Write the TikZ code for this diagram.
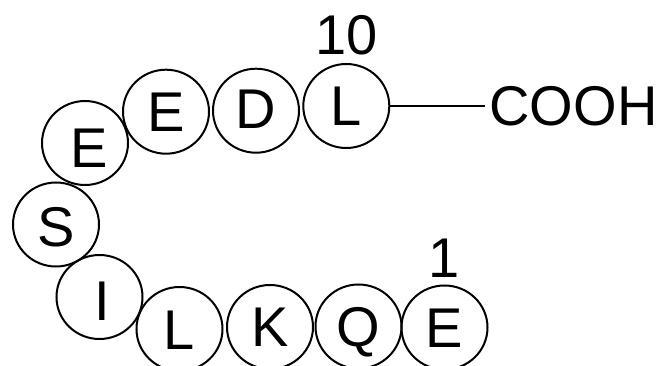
\documentclass[tikz,border=0pt]{standalone}
\usepackage{fontspec}
\setmainfont{Liberation Sans}
\usetikzlibrary{shapes.geometric, positioning}
\tikzstyle{residue} = [ellipse, draw=black, line width=2pt, minimum width=86pt, minimum height=84pt, inner sep=0pt, text height=40pt, text depth=0pt, font=\fontsize{56}{60}\selectfont]
\tikzstyle{tag} = [inner sep=0pt, text height=40pt, text depth=0pt, font=\fontsize{56}{60}\selectfont]
\tikzstyle{bond} = [line width=1.8pt]

\begin{document}
\begin{tikzpicture}[x=1pt, y=-1pt]
\useasboundingbox (0,0) rectangle (662,366);

% Residues, N-terminus first
\node (e1) [residue] at (444.5,327.5) {E};
\node (q2) [residue] at (358.5,326.5) {Q};
\node (k3) [residue] at (270,327) {K};
\node (l4) [residue] at (179.5,329) {L};
\node (i5) [residue, text height=47pt] at (99.5,297) {\hspace{5pt}I};
\node (s6) [residue, text height=44pt] at (56,224.5) {S};
\node (e7) [residue, text height=50pt] at (85,143) {\hspace{8pt}E};
\node (e8) [residue] at (166,111.7) {E};
\node (d9) [residue, text height=36pt] at (256,110.7) {D};
\node (l10) [residue] at (346.3,106) {L};

% Position numbers
\node (n1) [tag, above=7pt of e1] {1};
\node (n10) [tag, above=8.5pt of l10] {10};

% C-terminus
\node (cooh) [tag, inner xsep=4pt, right=95pt of l10] {COOH};
\draw [bond] (l10) -- (cooh);

\end{tikzpicture}
\end{document}
